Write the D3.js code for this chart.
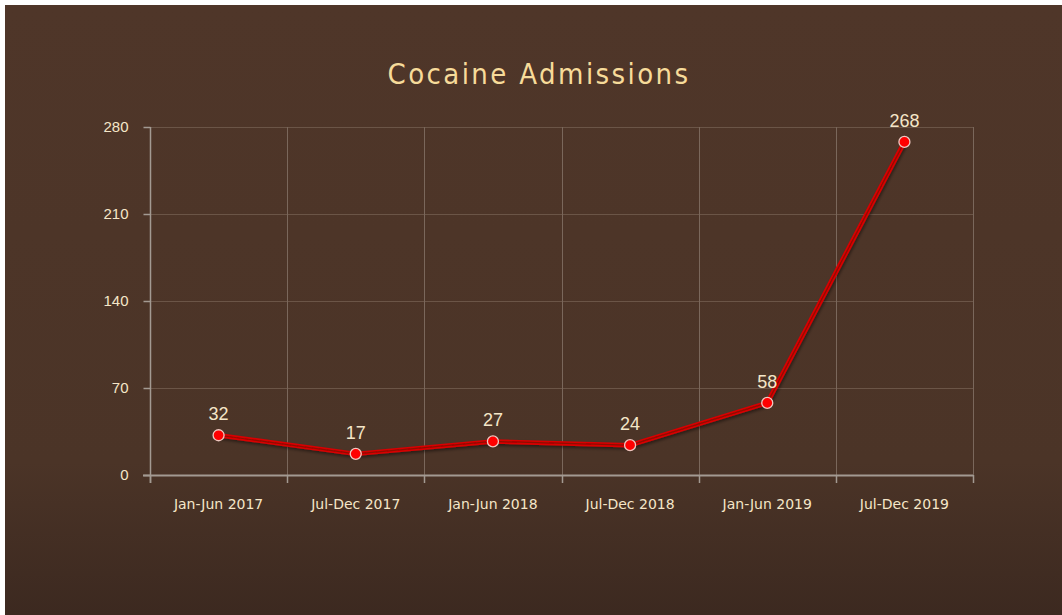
<!DOCTYPE html>
<html>
<head>
<meta charset="utf-8">
<script src="https://cdn.jsdelivr.net/npm/d3@7"></script>
<style>
  html, body { margin: 0; padding: 0; background: #ffffff; }
  svg { display: block; }
</style>
</head>
<body>
<svg id="chart" width="1062" height="615"></svg>
<script>
// Half-year periods and admissions counts
const categories = ["Jan-Jun 2017", "Jul-Dec 2017", "Jan-Jun 2018", "Jul-Dec 2018", "Jan-Jun 2019", "Jul-Dec 2019"];
const admissions = [32, 17, 27, 24, 58, 268];
const yTicks = [0, 70, 140, 210, 280];
const chartTitle = "Cocaine Admissions";

const svg = d3.select("#chart");
const W = 1062, H = 615;
const plot = { left: 150, right: 973, top: 127, bottom: 475 };

// Background panel with a darker lower section
const defs = svg.append("defs");
const bg = defs.append("linearGradient").attr("id", "bgGrad")
  .attr("x1", 0).attr("y1", 0).attr("x2", 0).attr("y2", 1);
bg.append("stop").attr("offset", "0%").attr("stop-color", "#4f3629");
bg.append("stop").attr("offset", "75%").attr("stop-color", "#4b3427");
bg.append("stop").attr("offset", "100%").attr("stop-color", "#3c2920");

const shadow = defs.append("filter").attr("id", "lineShadow")
  .attr("x", "-10%").attr("y", "-10%").attr("width", "120%").attr("height", "130%");
shadow.append("feDropShadow").attr("dx", 1).attr("dy", 2).attr("stdDeviation", 1.5)
  .attr("flood-color", "#000").attr("flood-opacity", 0.45);

svg.append("rect").attr("x", 5).attr("y", 5).attr("width", W - 5).attr("height", H - 5)
  .attr("fill", "url(#bgGrad)");

// Scales
const x = d3.scaleBand().domain(categories).range([plot.left, plot.right]);
const y = d3.scaleLinear().domain([0, 280]).range([plot.bottom, plot.top]);

// Horizontal gridlines
svg.append("g").selectAll("line").data(yTicks.filter(d => d > 0)).join("line")
  .attr("x1", plot.left).attr("x2", plot.right)
  .attr("y1", d => y(d) + 0.5).attr("y2", d => y(d) + 0.5)
  .attr("stroke", "#6b5547").attr("stroke-width", 1);

// Vertical gridlines at category boundaries
const bounds = categories.map(c => x(c)).concat([plot.right]);
svg.append("g").selectAll("line").data(bounds.slice(1)).join("line")
  .attr("x1", d => Math.round(d) + 0.5).attr("x2", d => Math.round(d) + 0.5)
  .attr("y1", plot.top).attr("y2", plot.bottom)
  .attr("stroke", "#7a675b").attr("stroke-width", 1);

// Y axis
const yAxis = svg.append("g").attr("transform", `translate(${plot.left + 0.5},0)`)
  .call(d3.axisLeft(y).tickValues(yTicks).tickSize(7).tickPadding(15));
yAxis.select(".domain").attr("d", `M0,${plot.top}V${plot.bottom + 8}`)
  .attr("stroke", "#a39a92").attr("stroke-width", 1.5);
yAxis.selectAll(".tick line").attr("stroke", "#a39a92").attr("stroke-width", 1.5);
yAxis.selectAll(".tick text")
  .attr("fill", "#f5e6c8").attr("font-family", "Liberation Sans, Arial, sans-serif")
  .attr("font-size", 15);

// X axis
const xAxis = svg.append("g").attr("transform", `translate(0,${plot.bottom + 0.5})`)
  .call(d3.axisBottom(x).tickSize(0).tickPadding(24));
xAxis.select(".domain").attr("d", `M${plot.left - 7},0H${plot.right}`)
  .attr("stroke", "#a39a92").attr("stroke-width", 2);
xAxis.selectAll(".tick text")
  .attr("fill", "#f5e6c8").attr("font-family", "DejaVu Sans, sans-serif")
  .attr("font-size", 14);
svg.append("g").selectAll("line").data(bounds).join("line")
  .attr("x1", d => Math.round(d) + 0.5).attr("x2", d => Math.round(d) + 0.5)
  .attr("y1", plot.bottom).attr("y2", plot.bottom + 8)
  .attr("stroke", "#a39a92").attr("stroke-width", 1.5);

// Series line: dark red core edged in bright red
const cx = c => x(c) + x.bandwidth() / 2;
const line = d3.line().x((d, i) => cx(categories[i])).y(d => y(d));
const series = svg.append("g").attr("filter", "url(#lineShadow)");
series.append("path").datum(admissions).attr("d", line)
  .attr("fill", "none").attr("stroke", "#d90000").attr("stroke-width", 4.5)
  .attr("stroke-linejoin", "round");
series.append("path").datum(admissions).attr("d", line)
  .attr("fill", "none").attr("stroke", "#8e0a06").attr("stroke-width", 1.2)
  .attr("stroke-linejoin", "round");

// Markers
svg.append("g").selectAll("circle").data(admissions).join("circle")
  .attr("cx", (d, i) => cx(categories[i])).attr("cy", d => y(d)).attr("r", 5.5)
  .attr("fill", "#ff0000").attr("stroke", "#f0c8c0").attr("stroke-width", 1.3);

// Value labels
svg.append("g").selectAll("text").data(admissions).join("text")
  .attr("x", (d, i) => cx(categories[i])).attr("y", d => y(d) - 15)
  .attr("text-anchor", "middle").attr("fill", "#f5e6c8")
  .attr("font-family", "Liberation Sans, Arial, sans-serif").attr("font-size", 18)
  .text(d => d);

// Title
svg.append("text").attr("x", 539).attr("y", 84).attr("text-anchor", "middle")
  .attr("fill", "#f7db9a").attr("font-family", "DejaVu Sans Condensed, DejaVu Sans, sans-serif")
  .attr("font-size", 29).attr("letter-spacing", 2.4)
  .text(chartTitle);
</script>
</body>
</html>
